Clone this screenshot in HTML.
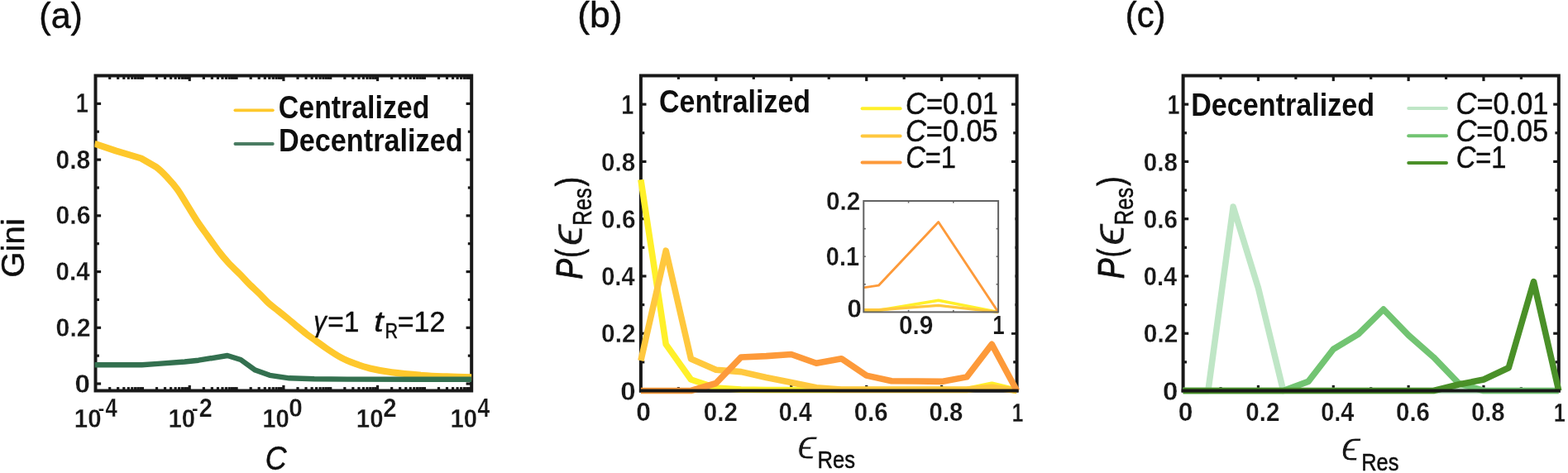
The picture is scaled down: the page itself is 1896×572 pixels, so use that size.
<!DOCTYPE html><html><head><meta charset="utf-8"><title>Figure</title><style>html,body{margin:0;padding:0;background:#fff;width:1896px;height:572px;overflow:hidden}svg{display:block}text{font-family:"Liberation Sans",Arial,sans-serif}</style></head><body>
<svg width="1896" height="572" viewBox="0 0 1896 572">
<rect width="1896" height="572" fill="#fff"/>
<clipPath id="ca"><rect x="114.4" y="91.5" width="455.8" height="381.0"/></clipPath>
<line x1="115.50" y1="464.03" x2="122.10" y2="464.03" stroke="#181818" stroke-width="3.20" />
<line x1="570.20" y1="464.03" x2="563.60" y2="464.03" stroke="#181818" stroke-width="3.20" />
<line x1="115.50" y1="396.30" x2="122.10" y2="396.30" stroke="#181818" stroke-width="3.20" />
<line x1="570.20" y1="396.30" x2="563.60" y2="396.30" stroke="#181818" stroke-width="3.20" />
<line x1="115.50" y1="328.57" x2="122.10" y2="328.57" stroke="#181818" stroke-width="3.20" />
<line x1="570.20" y1="328.57" x2="563.60" y2="328.57" stroke="#181818" stroke-width="3.20" />
<line x1="115.50" y1="260.83" x2="122.10" y2="260.83" stroke="#181818" stroke-width="3.20" />
<line x1="570.20" y1="260.83" x2="563.60" y2="260.83" stroke="#181818" stroke-width="3.20" />
<line x1="115.50" y1="193.10" x2="122.10" y2="193.10" stroke="#181818" stroke-width="3.20" />
<line x1="570.20" y1="193.10" x2="563.60" y2="193.10" stroke="#181818" stroke-width="3.20" />
<line x1="115.50" y1="125.37" x2="122.10" y2="125.37" stroke="#181818" stroke-width="3.20" />
<line x1="570.20" y1="125.37" x2="563.60" y2="125.37" stroke="#181818" stroke-width="3.20" />
<line x1="115.50" y1="430.17" x2="119.90" y2="430.17" stroke="#181818" stroke-width="3.20" />
<line x1="570.20" y1="430.17" x2="565.80" y2="430.17" stroke="#181818" stroke-width="3.20" />
<line x1="115.50" y1="362.43" x2="119.90" y2="362.43" stroke="#181818" stroke-width="3.20" />
<line x1="570.20" y1="362.43" x2="565.80" y2="362.43" stroke="#181818" stroke-width="3.20" />
<line x1="115.50" y1="294.70" x2="119.90" y2="294.70" stroke="#181818" stroke-width="3.20" />
<line x1="570.20" y1="294.70" x2="565.80" y2="294.70" stroke="#181818" stroke-width="3.20" />
<line x1="115.50" y1="226.97" x2="119.90" y2="226.97" stroke="#181818" stroke-width="3.20" />
<line x1="570.20" y1="226.97" x2="565.80" y2="226.97" stroke="#181818" stroke-width="3.20" />
<line x1="115.50" y1="159.23" x2="119.90" y2="159.23" stroke="#181818" stroke-width="3.20" />
<line x1="570.20" y1="159.23" x2="565.80" y2="159.23" stroke="#181818" stroke-width="3.20" />
<line x1="229.24" y1="472.50" x2="229.24" y2="465.90" stroke="#181818" stroke-width="3.20" />
<line x1="229.24" y1="91.50" x2="229.24" y2="98.10" stroke="#181818" stroke-width="3.20" />
<line x1="342.90" y1="472.50" x2="342.90" y2="465.90" stroke="#181818" stroke-width="3.20" />
<line x1="342.90" y1="91.50" x2="342.90" y2="98.10" stroke="#181818" stroke-width="3.20" />
<line x1="456.56" y1="472.50" x2="456.56" y2="465.90" stroke="#181818" stroke-width="3.20" />
<line x1="456.56" y1="91.50" x2="456.56" y2="98.10" stroke="#181818" stroke-width="3.20" />
<line x1="132.69" y1="472.50" x2="132.69" y2="468.10" stroke="#181818" stroke-width="3.20" />
<line x1="132.69" y1="91.50" x2="132.69" y2="95.90" stroke="#181818" stroke-width="3.20" />
<line x1="142.69" y1="472.50" x2="142.69" y2="468.10" stroke="#181818" stroke-width="3.20" />
<line x1="142.69" y1="91.50" x2="142.69" y2="95.90" stroke="#181818" stroke-width="3.20" />
<line x1="149.80" y1="472.50" x2="149.80" y2="468.10" stroke="#181818" stroke-width="3.20" />
<line x1="149.80" y1="91.50" x2="149.80" y2="95.90" stroke="#181818" stroke-width="3.20" />
<line x1="155.30" y1="472.50" x2="155.30" y2="468.10" stroke="#181818" stroke-width="3.20" />
<line x1="155.30" y1="91.50" x2="155.30" y2="95.90" stroke="#181818" stroke-width="3.20" />
<line x1="159.80" y1="472.50" x2="159.80" y2="468.10" stroke="#181818" stroke-width="3.20" />
<line x1="159.80" y1="91.50" x2="159.80" y2="95.90" stroke="#181818" stroke-width="3.20" />
<line x1="163.61" y1="472.50" x2="163.61" y2="468.10" stroke="#181818" stroke-width="3.20" />
<line x1="163.61" y1="91.50" x2="163.61" y2="95.90" stroke="#181818" stroke-width="3.20" />
<line x1="166.90" y1="472.50" x2="166.90" y2="468.10" stroke="#181818" stroke-width="3.20" />
<line x1="166.90" y1="91.50" x2="166.90" y2="95.90" stroke="#181818" stroke-width="3.20" />
<line x1="169.81" y1="472.50" x2="169.81" y2="468.10" stroke="#181818" stroke-width="3.20" />
<line x1="169.81" y1="91.50" x2="169.81" y2="95.90" stroke="#181818" stroke-width="3.20" />
<line x1="189.52" y1="472.50" x2="189.52" y2="468.10" stroke="#181818" stroke-width="3.20" />
<line x1="189.52" y1="91.50" x2="189.52" y2="95.90" stroke="#181818" stroke-width="3.20" />
<line x1="199.52" y1="472.50" x2="199.52" y2="468.10" stroke="#181818" stroke-width="3.20" />
<line x1="199.52" y1="91.50" x2="199.52" y2="95.90" stroke="#181818" stroke-width="3.20" />
<line x1="206.63" y1="472.50" x2="206.63" y2="468.10" stroke="#181818" stroke-width="3.20" />
<line x1="206.63" y1="91.50" x2="206.63" y2="95.90" stroke="#181818" stroke-width="3.20" />
<line x1="212.13" y1="472.50" x2="212.13" y2="468.10" stroke="#181818" stroke-width="3.20" />
<line x1="212.13" y1="91.50" x2="212.13" y2="95.90" stroke="#181818" stroke-width="3.20" />
<line x1="216.63" y1="472.50" x2="216.63" y2="468.10" stroke="#181818" stroke-width="3.20" />
<line x1="216.63" y1="91.50" x2="216.63" y2="95.90" stroke="#181818" stroke-width="3.20" />
<line x1="220.44" y1="472.50" x2="220.44" y2="468.10" stroke="#181818" stroke-width="3.20" />
<line x1="220.44" y1="91.50" x2="220.44" y2="95.90" stroke="#181818" stroke-width="3.20" />
<line x1="223.73" y1="472.50" x2="223.73" y2="468.10" stroke="#181818" stroke-width="3.20" />
<line x1="223.73" y1="91.50" x2="223.73" y2="95.90" stroke="#181818" stroke-width="3.20" />
<line x1="226.64" y1="472.50" x2="226.64" y2="468.10" stroke="#181818" stroke-width="3.20" />
<line x1="226.64" y1="91.50" x2="226.64" y2="95.90" stroke="#181818" stroke-width="3.20" />
<line x1="246.35" y1="472.50" x2="246.35" y2="468.10" stroke="#181818" stroke-width="3.20" />
<line x1="246.35" y1="91.50" x2="246.35" y2="95.90" stroke="#181818" stroke-width="3.20" />
<line x1="256.35" y1="472.50" x2="256.35" y2="468.10" stroke="#181818" stroke-width="3.20" />
<line x1="256.35" y1="91.50" x2="256.35" y2="95.90" stroke="#181818" stroke-width="3.20" />
<line x1="263.46" y1="472.50" x2="263.46" y2="468.10" stroke="#181818" stroke-width="3.20" />
<line x1="263.46" y1="91.50" x2="263.46" y2="95.90" stroke="#181818" stroke-width="3.20" />
<line x1="268.96" y1="472.50" x2="268.96" y2="468.10" stroke="#181818" stroke-width="3.20" />
<line x1="268.96" y1="91.50" x2="268.96" y2="95.90" stroke="#181818" stroke-width="3.20" />
<line x1="273.46" y1="472.50" x2="273.46" y2="468.10" stroke="#181818" stroke-width="3.20" />
<line x1="273.46" y1="91.50" x2="273.46" y2="95.90" stroke="#181818" stroke-width="3.20" />
<line x1="277.27" y1="472.50" x2="277.27" y2="468.10" stroke="#181818" stroke-width="3.20" />
<line x1="277.27" y1="91.50" x2="277.27" y2="95.90" stroke="#181818" stroke-width="3.20" />
<line x1="280.56" y1="472.50" x2="280.56" y2="468.10" stroke="#181818" stroke-width="3.20" />
<line x1="280.56" y1="91.50" x2="280.56" y2="95.90" stroke="#181818" stroke-width="3.20" />
<line x1="283.47" y1="472.50" x2="283.47" y2="468.10" stroke="#181818" stroke-width="3.20" />
<line x1="283.47" y1="91.50" x2="283.47" y2="95.90" stroke="#181818" stroke-width="3.20" />
<line x1="303.18" y1="472.50" x2="303.18" y2="468.10" stroke="#181818" stroke-width="3.20" />
<line x1="303.18" y1="91.50" x2="303.18" y2="95.90" stroke="#181818" stroke-width="3.20" />
<line x1="313.18" y1="472.50" x2="313.18" y2="468.10" stroke="#181818" stroke-width="3.20" />
<line x1="313.18" y1="91.50" x2="313.18" y2="95.90" stroke="#181818" stroke-width="3.20" />
<line x1="320.29" y1="472.50" x2="320.29" y2="468.10" stroke="#181818" stroke-width="3.20" />
<line x1="320.29" y1="91.50" x2="320.29" y2="95.90" stroke="#181818" stroke-width="3.20" />
<line x1="325.79" y1="472.50" x2="325.79" y2="468.10" stroke="#181818" stroke-width="3.20" />
<line x1="325.79" y1="91.50" x2="325.79" y2="95.90" stroke="#181818" stroke-width="3.20" />
<line x1="330.29" y1="472.50" x2="330.29" y2="468.10" stroke="#181818" stroke-width="3.20" />
<line x1="330.29" y1="91.50" x2="330.29" y2="95.90" stroke="#181818" stroke-width="3.20" />
<line x1="334.10" y1="472.50" x2="334.10" y2="468.10" stroke="#181818" stroke-width="3.20" />
<line x1="334.10" y1="91.50" x2="334.10" y2="95.90" stroke="#181818" stroke-width="3.20" />
<line x1="337.39" y1="472.50" x2="337.39" y2="468.10" stroke="#181818" stroke-width="3.20" />
<line x1="337.39" y1="91.50" x2="337.39" y2="95.90" stroke="#181818" stroke-width="3.20" />
<line x1="340.30" y1="472.50" x2="340.30" y2="468.10" stroke="#181818" stroke-width="3.20" />
<line x1="340.30" y1="91.50" x2="340.30" y2="95.90" stroke="#181818" stroke-width="3.20" />
<line x1="360.01" y1="472.50" x2="360.01" y2="468.10" stroke="#181818" stroke-width="3.20" />
<line x1="360.01" y1="91.50" x2="360.01" y2="95.90" stroke="#181818" stroke-width="3.20" />
<line x1="370.01" y1="472.50" x2="370.01" y2="468.10" stroke="#181818" stroke-width="3.20" />
<line x1="370.01" y1="91.50" x2="370.01" y2="95.90" stroke="#181818" stroke-width="3.20" />
<line x1="377.12" y1="472.50" x2="377.12" y2="468.10" stroke="#181818" stroke-width="3.20" />
<line x1="377.12" y1="91.50" x2="377.12" y2="95.90" stroke="#181818" stroke-width="3.20" />
<line x1="382.62" y1="472.50" x2="382.62" y2="468.10" stroke="#181818" stroke-width="3.20" />
<line x1="382.62" y1="91.50" x2="382.62" y2="95.90" stroke="#181818" stroke-width="3.20" />
<line x1="387.12" y1="472.50" x2="387.12" y2="468.10" stroke="#181818" stroke-width="3.20" />
<line x1="387.12" y1="91.50" x2="387.12" y2="95.90" stroke="#181818" stroke-width="3.20" />
<line x1="390.93" y1="472.50" x2="390.93" y2="468.10" stroke="#181818" stroke-width="3.20" />
<line x1="390.93" y1="91.50" x2="390.93" y2="95.90" stroke="#181818" stroke-width="3.20" />
<line x1="394.22" y1="472.50" x2="394.22" y2="468.10" stroke="#181818" stroke-width="3.20" />
<line x1="394.22" y1="91.50" x2="394.22" y2="95.90" stroke="#181818" stroke-width="3.20" />
<line x1="397.13" y1="472.50" x2="397.13" y2="468.10" stroke="#181818" stroke-width="3.20" />
<line x1="397.13" y1="91.50" x2="397.13" y2="95.90" stroke="#181818" stroke-width="3.20" />
<line x1="416.84" y1="472.50" x2="416.84" y2="468.10" stroke="#181818" stroke-width="3.20" />
<line x1="416.84" y1="91.50" x2="416.84" y2="95.90" stroke="#181818" stroke-width="3.20" />
<line x1="426.84" y1="472.50" x2="426.84" y2="468.10" stroke="#181818" stroke-width="3.20" />
<line x1="426.84" y1="91.50" x2="426.84" y2="95.90" stroke="#181818" stroke-width="3.20" />
<line x1="433.95" y1="472.50" x2="433.95" y2="468.10" stroke="#181818" stroke-width="3.20" />
<line x1="433.95" y1="91.50" x2="433.95" y2="95.90" stroke="#181818" stroke-width="3.20" />
<line x1="439.45" y1="472.50" x2="439.45" y2="468.10" stroke="#181818" stroke-width="3.20" />
<line x1="439.45" y1="91.50" x2="439.45" y2="95.90" stroke="#181818" stroke-width="3.20" />
<line x1="443.95" y1="472.50" x2="443.95" y2="468.10" stroke="#181818" stroke-width="3.20" />
<line x1="443.95" y1="91.50" x2="443.95" y2="95.90" stroke="#181818" stroke-width="3.20" />
<line x1="447.76" y1="472.50" x2="447.76" y2="468.10" stroke="#181818" stroke-width="3.20" />
<line x1="447.76" y1="91.50" x2="447.76" y2="95.90" stroke="#181818" stroke-width="3.20" />
<line x1="451.05" y1="472.50" x2="451.05" y2="468.10" stroke="#181818" stroke-width="3.20" />
<line x1="451.05" y1="91.50" x2="451.05" y2="95.90" stroke="#181818" stroke-width="3.20" />
<line x1="453.96" y1="472.50" x2="453.96" y2="468.10" stroke="#181818" stroke-width="3.20" />
<line x1="453.96" y1="91.50" x2="453.96" y2="95.90" stroke="#181818" stroke-width="3.20" />
<line x1="473.67" y1="472.50" x2="473.67" y2="468.10" stroke="#181818" stroke-width="3.20" />
<line x1="473.67" y1="91.50" x2="473.67" y2="95.90" stroke="#181818" stroke-width="3.20" />
<line x1="483.67" y1="472.50" x2="483.67" y2="468.10" stroke="#181818" stroke-width="3.20" />
<line x1="483.67" y1="91.50" x2="483.67" y2="95.90" stroke="#181818" stroke-width="3.20" />
<line x1="490.78" y1="472.50" x2="490.78" y2="468.10" stroke="#181818" stroke-width="3.20" />
<line x1="490.78" y1="91.50" x2="490.78" y2="95.90" stroke="#181818" stroke-width="3.20" />
<line x1="496.28" y1="472.50" x2="496.28" y2="468.10" stroke="#181818" stroke-width="3.20" />
<line x1="496.28" y1="91.50" x2="496.28" y2="95.90" stroke="#181818" stroke-width="3.20" />
<line x1="500.78" y1="472.50" x2="500.78" y2="468.10" stroke="#181818" stroke-width="3.20" />
<line x1="500.78" y1="91.50" x2="500.78" y2="95.90" stroke="#181818" stroke-width="3.20" />
<line x1="504.59" y1="472.50" x2="504.59" y2="468.10" stroke="#181818" stroke-width="3.20" />
<line x1="504.59" y1="91.50" x2="504.59" y2="95.90" stroke="#181818" stroke-width="3.20" />
<line x1="507.88" y1="472.50" x2="507.88" y2="468.10" stroke="#181818" stroke-width="3.20" />
<line x1="507.88" y1="91.50" x2="507.88" y2="95.90" stroke="#181818" stroke-width="3.20" />
<line x1="510.79" y1="472.50" x2="510.79" y2="468.10" stroke="#181818" stroke-width="3.20" />
<line x1="510.79" y1="91.50" x2="510.79" y2="95.90" stroke="#181818" stroke-width="3.20" />
<line x1="530.50" y1="472.50" x2="530.50" y2="468.10" stroke="#181818" stroke-width="3.20" />
<line x1="530.50" y1="91.50" x2="530.50" y2="95.90" stroke="#181818" stroke-width="3.20" />
<line x1="540.50" y1="472.50" x2="540.50" y2="468.10" stroke="#181818" stroke-width="3.20" />
<line x1="540.50" y1="91.50" x2="540.50" y2="95.90" stroke="#181818" stroke-width="3.20" />
<line x1="547.61" y1="472.50" x2="547.61" y2="468.10" stroke="#181818" stroke-width="3.20" />
<line x1="547.61" y1="91.50" x2="547.61" y2="95.90" stroke="#181818" stroke-width="3.20" />
<line x1="553.11" y1="472.50" x2="553.11" y2="468.10" stroke="#181818" stroke-width="3.20" />
<line x1="553.11" y1="91.50" x2="553.11" y2="95.90" stroke="#181818" stroke-width="3.20" />
<line x1="557.61" y1="472.50" x2="557.61" y2="468.10" stroke="#181818" stroke-width="3.20" />
<line x1="557.61" y1="91.50" x2="557.61" y2="95.90" stroke="#181818" stroke-width="3.20" />
<line x1="561.42" y1="472.50" x2="561.42" y2="468.10" stroke="#181818" stroke-width="3.20" />
<line x1="561.42" y1="91.50" x2="561.42" y2="95.90" stroke="#181818" stroke-width="3.20" />
<line x1="564.71" y1="472.50" x2="564.71" y2="468.10" stroke="#181818" stroke-width="3.20" />
<line x1="564.71" y1="91.50" x2="564.71" y2="95.90" stroke="#181818" stroke-width="3.20" />
<line x1="567.62" y1="472.50" x2="567.62" y2="468.10" stroke="#181818" stroke-width="3.20" />
<line x1="567.62" y1="91.50" x2="567.62" y2="95.90" stroke="#181818" stroke-width="3.20" />
<line x1="172.41" y1="472.50" x2="172.41" y2="468.10" stroke="#181818" stroke-width="3.20" />
<line x1="172.41" y1="91.50" x2="172.41" y2="95.90" stroke="#181818" stroke-width="3.20" />
<line x1="286.07" y1="472.50" x2="286.07" y2="468.10" stroke="#181818" stroke-width="3.20" />
<line x1="286.07" y1="91.50" x2="286.07" y2="95.90" stroke="#181818" stroke-width="3.20" />
<line x1="399.73" y1="472.50" x2="399.73" y2="468.10" stroke="#181818" stroke-width="3.20" />
<line x1="399.73" y1="91.50" x2="399.73" y2="95.90" stroke="#181818" stroke-width="3.20" />
<line x1="513.39" y1="472.50" x2="513.39" y2="468.10" stroke="#181818" stroke-width="3.20" />
<line x1="513.39" y1="91.50" x2="513.39" y2="95.90" stroke="#181818" stroke-width="3.20" />
<rect x="115.50" y="91.50" width="454.70" height="381.00" fill="none" stroke="#181818" stroke-width="4.00"/>
<g clip-path="url(#ca)">
<path d="M114.40,173.90 L115.90,174.30 L140.00,182.40 L170.70,191.50 L188.90,202.00 C194.18,205.87 198.10,210.15 202.40,214.70 C206.70,219.25 210.62,223.60 214.70,229.30 C218.78,235.00 222.83,242.37 226.90,248.90 C230.97,255.43 235.03,262.38 239.10,268.50 C243.17,274.62 247.22,279.90 251.30,285.60 C255.38,291.30 259.52,297.40 263.60,302.70 C267.68,308.00 271.32,312.52 275.80,317.40 C280.28,322.28 286.30,327.72 290.50,332.00 C294.70,336.28 297.08,339.18 301.00,343.10 C304.92,347.02 310.00,351.55 314.00,355.50 C318.00,359.45 321.27,363.42 325.00,366.80 C328.73,370.18 332.62,372.77 336.40,375.80 C340.18,378.83 343.92,381.87 347.70,385.00 C351.48,388.13 355.30,391.47 359.10,394.60 C362.90,397.73 366.72,400.90 370.50,403.80 C374.28,406.70 377.72,409.05 381.80,412.00 C385.88,414.95 389.88,418.08 395.00,421.50 C400.12,424.92 406.67,429.42 412.50,432.50 C418.33,435.58 424.18,437.83 430.00,440.00 C435.82,442.17 440.12,443.78 447.40,445.50 C454.68,447.22 463.07,448.90 473.70,450.30 C484.33,451.70 500.15,453.07 511.20,453.90 C522.25,454.73 529.87,454.92 540.00,455.30 C550.13,455.68 566.67,456.05 572.00,456.20" fill="none" stroke="#fec82c" stroke-width="8.00" stroke-linejoin="round" />
<polyline points="114.40,441.30 171.50,441.30 191.10,439.90 223.30,437.50 240.00,435.70 275.00,430.00 291.10,435.00 308.60,447.60 326.10,453.80 349.90,457.30 380.00,458.30 420.00,458.60 570.00,458.80" fill="none" stroke="#33704f" stroke-width="6.40" stroke-linejoin="round" stroke-linecap="butt" />
</g>
<line x1="284.40" y1="133.30" x2="329.80" y2="133.30" stroke="#fec82c" stroke-width="3.80" stroke-linecap="round"/>
<line x1="284.40" y1="174.00" x2="329.80" y2="174.00" stroke="#4a7c62" stroke-width="3.80" stroke-linecap="round"/>
<text transform="translate(336.85 142.60) scale(0.8555 1)" fill="#0e0e0e"><tspan x="0.00" y="0.00" font-size="39.59" font-weight="bold">Centralized</tspan></text>
<text transform="translate(336.97 183.41) scale(0.8678 1)" fill="#0e0e0e"><tspan x="0.00" y="0.00" font-size="39.46" font-weight="bold">Decentralized</tspan></text>
<text transform="translate(379.19 401.30) scale(0.8914 1)" fill="#0e0e0e" stroke="#0e0e0e" stroke-width="0.50" stroke-linejoin="round"><tspan x="0.00" y="0.00" font-size="34.80" font-style="italic">γ</tspan></text>
<text transform="translate(396.33 401.30) scale(0.9588 1)" fill="#0e0e0e" stroke="#0e0e0e" stroke-width="0.50" stroke-linejoin="round"><tspan x="0.00" y="0.00" font-size="34.80" >=1</tspan></text>
<text transform="translate(452.15 401.30) scale(1.1820 1)" fill="#0e0e0e" stroke="#0e0e0e" stroke-width="0.50" stroke-linejoin="round"><tspan x="0.00" y="0.00" font-size="34.80" font-style="italic">t</tspan></text>
<text transform="translate(465.58 408.90) scale(0.8242 1)" fill="#0e0e0e" stroke="#0e0e0e" stroke-width="0.50" stroke-linejoin="round"><tspan x="0.00" y="0.00" font-size="26.10" >R</tspan></text>
<text transform="translate(480.80 401.30) scale(0.9747 1)" fill="#0e0e0e" stroke="#0e0e0e" stroke-width="0.50" stroke-linejoin="round"><tspan x="0.00" y="0.00" font-size="34.80" >=12</tspan></text>
<text transform="translate(90.58 474.52) scale(1.0477 1)" fill="#181818" stroke="#fff" stroke-width="0.25" stroke-linejoin="round"><tspan x="0.00" y="0.00" font-size="31.55" font-weight="bold">0</tspan></text>
<text transform="translate(67.59 406.78) scale(0.9582 1)" fill="#181818" stroke="#fff" stroke-width="0.25" stroke-linejoin="round"><tspan x="0.00" y="0.00" font-size="31.55" font-weight="bold">0.2</tspan></text>
<text transform="translate(67.62 339.05) scale(0.9332 1)" fill="#181818" stroke="#fff" stroke-width="0.25" stroke-linejoin="round"><tspan x="0.00" y="0.00" font-size="31.55" font-weight="bold">0.4</tspan></text>
<text transform="translate(67.60 271.32) scale(0.9545 1)" fill="#181818" stroke="#fff" stroke-width="0.25" stroke-linejoin="round"><tspan x="0.00" y="0.00" font-size="31.55" font-weight="bold">0.6</tspan></text>
<text transform="translate(67.60 203.58) scale(0.9509 1)" fill="#181818" stroke="#fff" stroke-width="0.25" stroke-linejoin="round"><tspan x="0.00" y="0.00" font-size="31.55" font-weight="bold">0.8</tspan></text>
<text transform="translate(91.74 136.17) scale(0.8347 1)" fill="#181818" stroke="#fff" stroke-width="0.25" stroke-linejoin="round"><tspan x="0.00" y="0.00" font-size="32.46" font-weight="bold">1</tspan></text>
<text transform="translate(89.87 516.99) scale(0.9560 1)" fill="#181818" stroke="#fff" stroke-width="0.25" stroke-linejoin="round"><tspan x="0.00" y="0.00" font-size="30.70" font-weight="bold">10</tspan></text>
<text transform="translate(118.45 501.73) scale(0.9574 1)" fill="#181818" stroke="#fff" stroke-width="0.25" stroke-linejoin="round"><tspan x="0.00" y="0.00" font-size="24.17" font-weight="bold">-</tspan></text>
<text transform="translate(127.59 504.00) scale(0.8164 1)" fill="#181818" stroke="#fff" stroke-width="0.25" stroke-linejoin="round"><tspan x="0.00" y="0.00" font-size="31.59" font-weight="bold">4</tspan></text>
<text transform="translate(203.53 516.99) scale(0.9560 1)" fill="#181818" stroke="#fff" stroke-width="0.25" stroke-linejoin="round"><tspan x="0.00" y="0.00" font-size="30.70" font-weight="bold">10</tspan></text>
<text transform="translate(232.11 501.73) scale(0.9574 1)" fill="#181818" stroke="#fff" stroke-width="0.25" stroke-linejoin="round"><tspan x="0.00" y="0.00" font-size="24.17" font-weight="bold">-</tspan></text>
<text transform="translate(240.63 504.00) scale(0.9232 1)" fill="#181818" stroke="#fff" stroke-width="0.25" stroke-linejoin="round"><tspan x="0.00" y="0.00" font-size="31.14" font-weight="bold">2</tspan></text>
<text transform="translate(317.19 516.99) scale(0.9560 1)" fill="#181818" stroke="#fff" stroke-width="0.25" stroke-linejoin="round"><tspan x="0.00" y="0.00" font-size="30.70" font-weight="bold">10</tspan></text>
<text transform="translate(349.31 503.99) scale(0.9537 1)" fill="#181818" stroke="#fff" stroke-width="0.25" stroke-linejoin="round"><tspan x="0.00" y="0.00" font-size="31.13" font-weight="bold">0</tspan></text>
<text transform="translate(430.85 516.99) scale(0.9560 1)" fill="#181818" stroke="#fff" stroke-width="0.25" stroke-linejoin="round"><tspan x="0.00" y="0.00" font-size="30.70" font-weight="bold">10</tspan></text>
<text transform="translate(463.13 504.30) scale(0.9304 1)" fill="#181818" stroke="#fff" stroke-width="0.25" stroke-linejoin="round"><tspan x="0.00" y="0.00" font-size="31.57" font-weight="bold">2</tspan></text>
<text transform="translate(544.51 516.99) scale(0.9560 1)" fill="#181818" stroke="#fff" stroke-width="0.25" stroke-linejoin="round"><tspan x="0.00" y="0.00" font-size="30.70" font-weight="bold">10</tspan></text>
<text transform="translate(577.42 504.30) scale(0.8229 1)" fill="#181818" stroke="#fff" stroke-width="0.25" stroke-linejoin="round"><tspan x="0.00" y="0.00" font-size="32.03" font-weight="bold">4</tspan></text>
<text transform="translate(320.84 567.69) scale(0.8615 1)" fill="#0e0e0e" stroke="#0e0e0e" stroke-width="0.50" stroke-linejoin="round"><tspan x="0.00" y="0.00" font-size="41.41" font-style="italic">C</tspan></text>
<text transform="translate(28.71 335.72) rotate(-90) scale(1.0467 1)" fill="#0e0e0e" stroke="#0e0e0e" stroke-width="0.50" stroke-linejoin="round"><tspan x="0.00" y="0.00" font-size="38.50" >Gini</tspan></text>
<text transform="translate(47.32 33.57) scale(0.9573 1)" fill="#0e0e0e" stroke="#0e0e0e" stroke-width="0.50" stroke-linejoin="round"><tspan x="0.00" y="0.00" font-size="44.92" >(a)</tspan></text>
<line x1="774.90" y1="472.50" x2="781.50" y2="472.50" stroke="#181818" stroke-width="3.20" />
<line x1="1229.60" y1="472.50" x2="1223.00" y2="472.50" stroke="#181818" stroke-width="3.20" />
<line x1="774.90" y1="403.23" x2="781.50" y2="403.23" stroke="#181818" stroke-width="3.20" />
<line x1="1229.60" y1="403.23" x2="1223.00" y2="403.23" stroke="#181818" stroke-width="3.20" />
<line x1="774.90" y1="333.95" x2="781.50" y2="333.95" stroke="#181818" stroke-width="3.20" />
<line x1="1229.60" y1="333.95" x2="1223.00" y2="333.95" stroke="#181818" stroke-width="3.20" />
<line x1="774.90" y1="264.68" x2="781.50" y2="264.68" stroke="#181818" stroke-width="3.20" />
<line x1="1229.60" y1="264.68" x2="1223.00" y2="264.68" stroke="#181818" stroke-width="3.20" />
<line x1="774.90" y1="195.41" x2="781.50" y2="195.41" stroke="#181818" stroke-width="3.20" />
<line x1="1229.60" y1="195.41" x2="1223.00" y2="195.41" stroke="#181818" stroke-width="3.20" />
<line x1="774.90" y1="126.14" x2="781.50" y2="126.14" stroke="#181818" stroke-width="3.20" />
<line x1="1229.60" y1="126.14" x2="1223.00" y2="126.14" stroke="#181818" stroke-width="3.20" />
<line x1="774.90" y1="437.86" x2="779.30" y2="437.86" stroke="#181818" stroke-width="3.20" />
<line x1="1229.60" y1="437.86" x2="1225.20" y2="437.86" stroke="#181818" stroke-width="3.20" />
<line x1="774.90" y1="368.59" x2="779.30" y2="368.59" stroke="#181818" stroke-width="3.20" />
<line x1="1229.60" y1="368.59" x2="1225.20" y2="368.59" stroke="#181818" stroke-width="3.20" />
<line x1="774.90" y1="299.32" x2="779.30" y2="299.32" stroke="#181818" stroke-width="3.20" />
<line x1="1229.60" y1="299.32" x2="1225.20" y2="299.32" stroke="#181818" stroke-width="3.20" />
<line x1="774.90" y1="230.05" x2="779.30" y2="230.05" stroke="#181818" stroke-width="3.20" />
<line x1="1229.60" y1="230.05" x2="1225.20" y2="230.05" stroke="#181818" stroke-width="3.20" />
<line x1="774.90" y1="160.77" x2="779.30" y2="160.77" stroke="#181818" stroke-width="3.20" />
<line x1="1229.60" y1="160.77" x2="1225.20" y2="160.77" stroke="#181818" stroke-width="3.20" />
<line x1="865.84" y1="472.50" x2="865.84" y2="465.90" stroke="#181818" stroke-width="3.20" />
<line x1="865.84" y1="91.50" x2="865.84" y2="98.10" stroke="#181818" stroke-width="3.20" />
<line x1="956.78" y1="472.50" x2="956.78" y2="465.90" stroke="#181818" stroke-width="3.20" />
<line x1="956.78" y1="91.50" x2="956.78" y2="98.10" stroke="#181818" stroke-width="3.20" />
<line x1="1047.72" y1="472.50" x2="1047.72" y2="465.90" stroke="#181818" stroke-width="3.20" />
<line x1="1047.72" y1="91.50" x2="1047.72" y2="98.10" stroke="#181818" stroke-width="3.20" />
<line x1="1138.66" y1="472.50" x2="1138.66" y2="465.90" stroke="#181818" stroke-width="3.20" />
<line x1="1138.66" y1="91.50" x2="1138.66" y2="98.10" stroke="#181818" stroke-width="3.20" />
<line x1="820.37" y1="472.50" x2="820.37" y2="468.10" stroke="#181818" stroke-width="3.20" />
<line x1="820.37" y1="91.50" x2="820.37" y2="95.90" stroke="#181818" stroke-width="3.20" />
<line x1="911.31" y1="472.50" x2="911.31" y2="468.10" stroke="#181818" stroke-width="3.20" />
<line x1="911.31" y1="91.50" x2="911.31" y2="95.90" stroke="#181818" stroke-width="3.20" />
<line x1="1002.25" y1="472.50" x2="1002.25" y2="468.10" stroke="#181818" stroke-width="3.20" />
<line x1="1002.25" y1="91.50" x2="1002.25" y2="95.90" stroke="#181818" stroke-width="3.20" />
<line x1="1093.19" y1="472.50" x2="1093.19" y2="468.10" stroke="#181818" stroke-width="3.20" />
<line x1="1093.19" y1="91.50" x2="1093.19" y2="95.90" stroke="#181818" stroke-width="3.20" />
<line x1="1184.13" y1="472.50" x2="1184.13" y2="468.10" stroke="#181818" stroke-width="3.20" />
<line x1="1184.13" y1="91.50" x2="1184.13" y2="95.90" stroke="#181818" stroke-width="3.20" />
<rect x="995" y="233" width="232.5" height="169" fill="#fff"/>
<rect x="774.90" y="91.50" width="454.70" height="381.00" fill="none" stroke="#181818" stroke-width="4.00"/>
<clipPath id="c774"><rect x="768.9" y="91.5" width="466.7" height="389.0"/></clipPath>
<g clip-path="url(#c774)">
<polyline points="774.90,217.23 805.21,416.39 835.53,458.99 865.84,469.04 896.15,471.11 926.47,471.46 956.78,471.46 987.09,471.46 1017.41,471.46 1047.72,471.46 1078.03,471.46 1108.35,471.46 1138.66,471.46 1168.97,471.46 1199.29,465.23 1229.60,472.50" fill="none" stroke="#fff02a" stroke-width="7.60" stroke-linejoin="round" stroke-linecap="butt" />
<polyline points="774.90,436.13 805.21,303.13 835.53,434.05 865.84,447.22 896.15,449.64 926.47,456.57 956.78,462.46 987.09,468.69 1017.41,471.11 1047.72,471.11 1078.03,471.11 1108.35,471.11 1138.66,471.11 1168.97,471.11 1199.29,468.34 1229.60,472.50" fill="none" stroke="#ffc83e" stroke-width="7.60" stroke-linejoin="round" stroke-linecap="butt" />
<polyline points="774.90,472.50 805.21,472.50 835.53,472.50 865.84,463.49 896.15,431.98 926.47,430.59 956.78,428.51 987.09,439.25 1017.41,433.71 1047.72,454.14 1078.03,460.72 1108.35,461.07 1138.66,461.42 1168.97,455.87 1199.29,416.39 1229.60,472.50" fill="none" stroke="#fd9a3a" stroke-width="7.60" stroke-linejoin="round" stroke-linecap="butt" />
</g>
<line x1="772.90" y1="472.50" x2="1231.60" y2="472.50" stroke="#181818" stroke-width="4.00" />
<text transform="translate(750.18 483.68) scale(1.0477 1)" fill="#181818" stroke="#fff" stroke-width="0.25" stroke-linejoin="round"><tspan x="0.00" y="0.00" font-size="31.55" font-weight="bold">0</tspan></text>
<text transform="translate(727.11 414.41) scale(0.9461 1)" fill="#181818" stroke="#fff" stroke-width="0.25" stroke-linejoin="round"><tspan x="0.00" y="0.00" font-size="31.55" font-weight="bold">0.2</tspan></text>
<text transform="translate(727.14 345.14) scale(0.9214 1)" fill="#181818" stroke="#fff" stroke-width="0.25" stroke-linejoin="round"><tspan x="0.00" y="0.00" font-size="31.55" font-weight="bold">0.4</tspan></text>
<text transform="translate(727.11 275.87) scale(0.9425 1)" fill="#181818" stroke="#fff" stroke-width="0.25" stroke-linejoin="round"><tspan x="0.00" y="0.00" font-size="31.55" font-weight="bold">0.6</tspan></text>
<text transform="translate(727.12 206.59) scale(0.9389 1)" fill="#181818" stroke="#fff" stroke-width="0.25" stroke-linejoin="round"><tspan x="0.00" y="0.00" font-size="31.55" font-weight="bold">0.8</tspan></text>
<text transform="translate(751.14 137.64) scale(0.8347 1)" fill="#181818" stroke="#fff" stroke-width="0.25" stroke-linejoin="round"><tspan x="0.00" y="0.00" font-size="32.46" font-weight="bold">1</tspan></text>
<text transform="translate(769.13 509.39) scale(1.0213 1)" fill="#181818" stroke="#fff" stroke-width="0.25" stroke-linejoin="round"><tspan x="0.00" y="0.00" font-size="31.13" font-weight="bold">0</tspan></text>
<text transform="translate(850.76 509.39) scale(0.9491 1)" fill="#181818" stroke="#fff" stroke-width="0.25" stroke-linejoin="round"><tspan x="0.00" y="0.00" font-size="31.13" font-weight="bold">0.2</tspan></text>
<text transform="translate(941.73 509.39) scale(0.9244 1)" fill="#181818" stroke="#fff" stroke-width="0.25" stroke-linejoin="round"><tspan x="0.00" y="0.00" font-size="31.13" font-weight="bold">0.4</tspan></text>
<text transform="translate(1032.64 509.39) scale(0.9455 1)" fill="#181818" stroke="#fff" stroke-width="0.25" stroke-linejoin="round"><tspan x="0.00" y="0.00" font-size="31.13" font-weight="bold">0.6</tspan></text>
<text transform="translate(1123.59 509.39) scale(0.9419 1)" fill="#181818" stroke="#fff" stroke-width="0.25" stroke-linejoin="round"><tspan x="0.00" y="0.00" font-size="31.13" font-weight="bold">0.8</tspan></text>
<text transform="translate(1223.56 509.70) scale(0.7856 1)" fill="#181818" stroke="#fff" stroke-width="0.25" stroke-linejoin="round"><tspan x="0.00" y="0.00" font-size="32.03" font-weight="bold">1</tspan></text>
<text transform="translate(797.04 136.01) scale(0.8754 1)" fill="#0e0e0e"><tspan x="0.00" y="0.00" font-size="38.78" font-weight="bold">Centralized</tspan></text>
<line x1="1042.60" y1="131.20" x2="1088.60" y2="131.20" stroke="#fff02a" stroke-width="4.00" stroke-linecap="round"/>
<text transform="translate(1095.11 138.00) scale(0.9506 1)" fill="#0e0e0e" stroke="#0e0e0e" stroke-width="0.50" stroke-linejoin="round"><tspan x="0.00" y="0.00" font-size="36.20" font-style="italic">C</tspan><tspan x="26.14" y="0.00" font-size="36.20" >=0.01</tspan></text>
<line x1="1042.60" y1="164.60" x2="1088.60" y2="164.60" stroke="#ffc83e" stroke-width="4.00" stroke-linecap="round"/>
<text transform="translate(1095.11 170.70) scale(0.9476 1)" fill="#0e0e0e" stroke="#0e0e0e" stroke-width="0.50" stroke-linejoin="round"><tspan x="0.00" y="0.00" font-size="36.20" font-style="italic">C</tspan><tspan x="26.14" y="0.00" font-size="36.20" >=0.05</tspan></text>
<line x1="1042.60" y1="196.60" x2="1088.60" y2="196.60" stroke="#fd9a3a" stroke-width="4.00" stroke-linecap="round"/>
<text transform="translate(1095.21 203.20) scale(0.8992 1)" fill="#0e0e0e" stroke="#0e0e0e" stroke-width="0.50" stroke-linejoin="round"><tspan x="0.00" y="0.00" font-size="36.20" font-style="italic">C</tspan><tspan x="26.14" y="0.00" font-size="36.20" >=1</tspan></text>
<text transform="translate(702.83 225.33) rotate(-90) scale(0.7503 1)" fill="#0e0e0e" stroke="#0e0e0e" stroke-width="0.90" stroke-linejoin="round"><tspan x="0.00" y="0.00" font-size="44.60" >)</tspan></text>
<text transform="translate(715.08 272.64) rotate(-90) scale(0.8085 1)" fill="#0e0e0e" stroke="#0e0e0e" stroke-width="0.50" stroke-linejoin="round"><tspan x="0.00" y="0.00" font-size="31.57" >Res</tspan></text>
<text transform="translate(704.40 297.58) rotate(-90) scale(1.0762 1)" fill="#181818" stroke="#fff" stroke-width="0.30" stroke-linejoin="round"><tspan x="0.00" y="0.00" font-size="55.09" font-style="italic">ϵ</tspan></text>
<text transform="translate(702.82 311.56) rotate(-90) scale(0.7005 1)" fill="#0e0e0e" stroke="#0e0e0e" stroke-width="0.90" stroke-linejoin="round"><tspan x="0.00" y="0.00" font-size="44.17" >(</tspan></text>
<text transform="translate(704.40 337.72) rotate(-90) scale(0.8384 1)" fill="#0e0e0e" stroke="#0e0e0e" stroke-width="0.90" stroke-linejoin="round"><tspan x="0.00" y="0.00" font-size="44.49" font-style="italic">P</tspan></text>
<text transform="translate(963.90 554.50) scale(1.0563 1)" fill="#181818" stroke="#fff" stroke-width="0.80" stroke-linejoin="round"><tspan x="0.00" y="0.00" font-size="50.57" font-style="italic">ϵ</tspan></text>
<text transform="translate(988.45 566.40) scale(0.8693 1)" fill="#0e0e0e" stroke="#0e0e0e" stroke-width="0.50" stroke-linejoin="round"><tspan x="0.00" y="0.00" font-size="29.50" >Res</tspan></text>
<text transform="translate(698.23 33.17) scale(1.0134 1)" fill="#0e0e0e" stroke="#0e0e0e" stroke-width="0.50" stroke-linejoin="round"><tspan x="0.00" y="0.00" font-size="43.96" >(b)</tspan></text>
<rect x="1044.3" y="243.0" width="162.8" height="134.4" fill="#fff"/>
<clipPath id="ci"><rect x="1044.3" y="243.0" width="162.8" height="137.4"/></clipPath>
<g clip-path="url(#ci)">
<polyline points="990.03,375.38 1062.39,375.38 1134.74,363.29 1207.10,377.40" fill="none" stroke="#fff02a" stroke-width="3.60" stroke-linejoin="round" stroke-linecap="butt" />
<polyline points="990.03,374.71 1062.39,374.71 1134.74,369.34 1207.10,377.40" fill="none" stroke="#ffc83e" stroke-width="3.40" stroke-linejoin="round" stroke-linecap="butt" />
<polyline points="990.03,355.90 1062.39,345.14 1134.74,268.54 1207.10,377.40" fill="none" stroke="#fd9a3a" stroke-width="2.90" stroke-linejoin="round" stroke-linecap="butt" />
</g>
<line x1="1044.30" y1="343.80" x2="1046.80" y2="343.80" stroke="#626262" stroke-width="1.60" />
<line x1="1207.10" y1="343.80" x2="1204.60" y2="343.80" stroke="#626262" stroke-width="1.60" />
<line x1="1044.30" y1="310.20" x2="1046.80" y2="310.20" stroke="#626262" stroke-width="1.60" />
<line x1="1207.10" y1="310.20" x2="1204.60" y2="310.20" stroke="#626262" stroke-width="1.60" />
<line x1="1044.30" y1="276.60" x2="1046.80" y2="276.60" stroke="#626262" stroke-width="1.60" />
<line x1="1207.10" y1="276.60" x2="1204.60" y2="276.60" stroke="#626262" stroke-width="1.60" />
<line x1="1098.57" y1="377.40" x2="1098.57" y2="374.90" stroke="#626262" stroke-width="1.60" />
<line x1="1098.57" y1="243.00" x2="1098.57" y2="245.50" stroke="#626262" stroke-width="1.60" />
<line x1="1152.83" y1="377.40" x2="1152.83" y2="374.90" stroke="#626262" stroke-width="1.60" />
<line x1="1152.83" y1="243.00" x2="1152.83" y2="245.50" stroke="#626262" stroke-width="1.60" />
<rect x="1044.3" y="243.0" width="162.8" height="134.4" fill="none" stroke="#626262" stroke-width="2.0"/>
<text transform="translate(998.91 253.59) scale(0.9583 1)" fill="#181818" stroke="#fff" stroke-width="0.25" stroke-linejoin="round"><tspan x="0.00" y="0.00" font-size="30.99" font-weight="bold">0.2</tspan></text>
<text transform="translate(998.84 320.69) scale(0.9286 1)" fill="#181818" stroke="#fff" stroke-width="0.25" stroke-linejoin="round"><tspan x="0.00" y="0.00" font-size="31.13" font-weight="bold">0.1</tspan></text>
<text transform="translate(1024.55 383.79) scale(1.0263 1)" fill="#181818" stroke="#fff" stroke-width="0.25" stroke-linejoin="round"><tspan x="0.00" y="0.00" font-size="30.56" font-weight="bold">0</tspan></text>
<text transform="translate(1086.91 403.69) scale(0.9534 1)" fill="#181818" stroke="#fff" stroke-width="0.25" stroke-linejoin="round"><tspan x="0.00" y="0.00" font-size="31.27" font-weight="bold">0.9</tspan></text>
<text transform="translate(1200.21 403.60) scale(0.8390 1)" fill="#181818" stroke="#fff" stroke-width="0.25" stroke-linejoin="round"><tspan x="0.00" y="0.00" font-size="31.01" font-weight="bold">1</tspan></text>
<line x1="1430.60" y1="472.50" x2="1437.20" y2="472.50" stroke="#181818" stroke-width="3.20" />
<line x1="1884.80" y1="472.50" x2="1878.20" y2="472.50" stroke="#181818" stroke-width="3.20" />
<line x1="1430.60" y1="403.23" x2="1437.20" y2="403.23" stroke="#181818" stroke-width="3.20" />
<line x1="1884.80" y1="403.23" x2="1878.20" y2="403.23" stroke="#181818" stroke-width="3.20" />
<line x1="1430.60" y1="333.95" x2="1437.20" y2="333.95" stroke="#181818" stroke-width="3.20" />
<line x1="1884.80" y1="333.95" x2="1878.20" y2="333.95" stroke="#181818" stroke-width="3.20" />
<line x1="1430.60" y1="264.68" x2="1437.20" y2="264.68" stroke="#181818" stroke-width="3.20" />
<line x1="1884.80" y1="264.68" x2="1878.20" y2="264.68" stroke="#181818" stroke-width="3.20" />
<line x1="1430.60" y1="195.41" x2="1437.20" y2="195.41" stroke="#181818" stroke-width="3.20" />
<line x1="1884.80" y1="195.41" x2="1878.20" y2="195.41" stroke="#181818" stroke-width="3.20" />
<line x1="1430.60" y1="126.14" x2="1437.20" y2="126.14" stroke="#181818" stroke-width="3.20" />
<line x1="1884.80" y1="126.14" x2="1878.20" y2="126.14" stroke="#181818" stroke-width="3.20" />
<line x1="1430.60" y1="437.86" x2="1435.00" y2="437.86" stroke="#181818" stroke-width="3.20" />
<line x1="1884.80" y1="437.86" x2="1880.40" y2="437.86" stroke="#181818" stroke-width="3.20" />
<line x1="1430.60" y1="368.59" x2="1435.00" y2="368.59" stroke="#181818" stroke-width="3.20" />
<line x1="1884.80" y1="368.59" x2="1880.40" y2="368.59" stroke="#181818" stroke-width="3.20" />
<line x1="1430.60" y1="299.32" x2="1435.00" y2="299.32" stroke="#181818" stroke-width="3.20" />
<line x1="1884.80" y1="299.32" x2="1880.40" y2="299.32" stroke="#181818" stroke-width="3.20" />
<line x1="1430.60" y1="230.05" x2="1435.00" y2="230.05" stroke="#181818" stroke-width="3.20" />
<line x1="1884.80" y1="230.05" x2="1880.40" y2="230.05" stroke="#181818" stroke-width="3.20" />
<line x1="1430.60" y1="160.77" x2="1435.00" y2="160.77" stroke="#181818" stroke-width="3.20" />
<line x1="1884.80" y1="160.77" x2="1880.40" y2="160.77" stroke="#181818" stroke-width="3.20" />
<line x1="1521.44" y1="472.50" x2="1521.44" y2="465.90" stroke="#181818" stroke-width="3.20" />
<line x1="1521.44" y1="91.50" x2="1521.44" y2="98.10" stroke="#181818" stroke-width="3.20" />
<line x1="1612.28" y1="472.50" x2="1612.28" y2="465.90" stroke="#181818" stroke-width="3.20" />
<line x1="1612.28" y1="91.50" x2="1612.28" y2="98.10" stroke="#181818" stroke-width="3.20" />
<line x1="1703.12" y1="472.50" x2="1703.12" y2="465.90" stroke="#181818" stroke-width="3.20" />
<line x1="1703.12" y1="91.50" x2="1703.12" y2="98.10" stroke="#181818" stroke-width="3.20" />
<line x1="1793.96" y1="472.50" x2="1793.96" y2="465.90" stroke="#181818" stroke-width="3.20" />
<line x1="1793.96" y1="91.50" x2="1793.96" y2="98.10" stroke="#181818" stroke-width="3.20" />
<line x1="1476.02" y1="472.50" x2="1476.02" y2="468.10" stroke="#181818" stroke-width="3.20" />
<line x1="1476.02" y1="91.50" x2="1476.02" y2="95.90" stroke="#181818" stroke-width="3.20" />
<line x1="1566.86" y1="472.50" x2="1566.86" y2="468.10" stroke="#181818" stroke-width="3.20" />
<line x1="1566.86" y1="91.50" x2="1566.86" y2="95.90" stroke="#181818" stroke-width="3.20" />
<line x1="1657.70" y1="472.50" x2="1657.70" y2="468.10" stroke="#181818" stroke-width="3.20" />
<line x1="1657.70" y1="91.50" x2="1657.70" y2="95.90" stroke="#181818" stroke-width="3.20" />
<line x1="1748.54" y1="472.50" x2="1748.54" y2="468.10" stroke="#181818" stroke-width="3.20" />
<line x1="1748.54" y1="91.50" x2="1748.54" y2="95.90" stroke="#181818" stroke-width="3.20" />
<line x1="1839.38" y1="472.50" x2="1839.38" y2="468.10" stroke="#181818" stroke-width="3.20" />
<line x1="1839.38" y1="91.50" x2="1839.38" y2="95.90" stroke="#181818" stroke-width="3.20" />
<rect x="1430.60" y="91.50" width="454.20" height="381.00" fill="none" stroke="#181818" stroke-width="4.00"/>
<clipPath id="c1430"><rect x="1424.6" y="91.5" width="466.2" height="389.0"/></clipPath>
<g clip-path="url(#c1430)">
<polyline points="1430.60,472.50 1460.88,472.50 1491.16,250.13 1521.44,348.16 1551.72,472.50 1582.00,472.50 1612.28,472.50 1642.56,472.50 1672.84,472.50 1703.12,472.50 1733.40,472.50 1763.68,472.50 1793.96,472.50 1824.24,472.50 1854.52,472.50 1884.80,472.50" fill="none" stroke="#bfe6c6" stroke-width="7.60" stroke-linejoin="round" stroke-linecap="butt" />
<polyline points="1430.60,472.50 1460.88,472.50 1491.16,472.50 1521.44,472.50 1551.72,472.50 1582.00,461.42 1612.28,422.28 1642.56,403.92 1672.84,374.13 1703.12,405.31 1733.40,431.98 1763.68,463.49 1793.96,472.50 1824.24,472.50 1854.52,472.50 1884.80,472.50" fill="none" stroke="#72c472" stroke-width="7.60" stroke-linejoin="round" stroke-linecap="butt" />
<polyline points="1430.60,472.50 1460.88,472.50 1491.16,472.50 1521.44,472.50 1551.72,472.50 1582.00,472.50 1612.28,472.50 1642.56,472.50 1672.84,472.50 1703.12,472.50 1733.40,472.50 1763.68,465.02 1793.96,458.99 1824.24,444.79 1854.52,340.54 1884.80,472.50" fill="none" stroke="#4a9028" stroke-width="7.60" stroke-linejoin="round" stroke-linecap="butt" />
</g>
<line x1="1428.60" y1="472.50" x2="1886.80" y2="472.50" stroke="#181818" stroke-width="4.00" />
<text transform="translate(1405.88 483.68) scale(1.0477 1)" fill="#181818" stroke="#fff" stroke-width="0.25" stroke-linejoin="round"><tspan x="0.00" y="0.00" font-size="31.55" font-weight="bold">0</tspan></text>
<text transform="translate(1382.81 414.41) scale(0.9461 1)" fill="#181818" stroke="#fff" stroke-width="0.25" stroke-linejoin="round"><tspan x="0.00" y="0.00" font-size="31.55" font-weight="bold">0.2</tspan></text>
<text transform="translate(1382.84 345.14) scale(0.9214 1)" fill="#181818" stroke="#fff" stroke-width="0.25" stroke-linejoin="round"><tspan x="0.00" y="0.00" font-size="31.55" font-weight="bold">0.4</tspan></text>
<text transform="translate(1382.81 275.87) scale(0.9425 1)" fill="#181818" stroke="#fff" stroke-width="0.25" stroke-linejoin="round"><tspan x="0.00" y="0.00" font-size="31.55" font-weight="bold">0.6</tspan></text>
<text transform="translate(1382.82 206.59) scale(0.9389 1)" fill="#181818" stroke="#fff" stroke-width="0.25" stroke-linejoin="round"><tspan x="0.00" y="0.00" font-size="31.55" font-weight="bold">0.8</tspan></text>
<text transform="translate(1411.54 137.64) scale(0.8347 1)" fill="#181818" stroke="#fff" stroke-width="0.25" stroke-linejoin="round"><tspan x="0.00" y="0.00" font-size="32.46" font-weight="bold">1</tspan></text>
<text transform="translate(1424.83 509.39) scale(1.0213 1)" fill="#181818" stroke="#fff" stroke-width="0.25" stroke-linejoin="round"><tspan x="0.00" y="0.00" font-size="31.13" font-weight="bold">0</tspan></text>
<text transform="translate(1506.36 509.39) scale(0.9491 1)" fill="#181818" stroke="#fff" stroke-width="0.25" stroke-linejoin="round"><tspan x="0.00" y="0.00" font-size="31.13" font-weight="bold">0.2</tspan></text>
<text transform="translate(1597.23 509.39) scale(0.9244 1)" fill="#181818" stroke="#fff" stroke-width="0.25" stroke-linejoin="round"><tspan x="0.00" y="0.00" font-size="31.13" font-weight="bold">0.4</tspan></text>
<text transform="translate(1688.04 509.39) scale(0.9455 1)" fill="#181818" stroke="#fff" stroke-width="0.25" stroke-linejoin="round"><tspan x="0.00" y="0.00" font-size="31.13" font-weight="bold">0.6</tspan></text>
<text transform="translate(1778.89 509.39) scale(0.9419 1)" fill="#181818" stroke="#fff" stroke-width="0.25" stroke-linejoin="round"><tspan x="0.00" y="0.00" font-size="31.13" font-weight="bold">0.8</tspan></text>
<text transform="translate(1878.76 509.70) scale(0.7856 1)" fill="#181818" stroke="#fff" stroke-width="0.25" stroke-linejoin="round"><tspan x="0.00" y="0.00" font-size="32.03" font-weight="bold">1</tspan></text>
<text transform="translate(1440.18 139.92) scale(0.8995 1)" fill="#0e0e0e"><tspan x="0.00" y="0.00" font-size="37.96" font-weight="bold">Decentralized</tspan></text>
<line x1="1703.20" y1="131.10" x2="1749.00" y2="131.10" stroke="#bfe6c6" stroke-width="4.00" stroke-linecap="round"/>
<text transform="translate(1760.61 138.00) scale(0.9506 1)" fill="#0e0e0e" stroke="#0e0e0e" stroke-width="0.50" stroke-linejoin="round"><tspan x="0.00" y="0.00" font-size="36.20" font-style="italic">C</tspan><tspan x="26.14" y="0.00" font-size="36.20" >=0.01</tspan></text>
<line x1="1703.20" y1="164.30" x2="1749.00" y2="164.30" stroke="#72c472" stroke-width="4.00" stroke-linecap="round"/>
<text transform="translate(1760.61 170.70) scale(0.9476 1)" fill="#0e0e0e" stroke="#0e0e0e" stroke-width="0.50" stroke-linejoin="round"><tspan x="0.00" y="0.00" font-size="36.20" font-style="italic">C</tspan><tspan x="26.14" y="0.00" font-size="36.20" >=0.05</tspan></text>
<line x1="1703.20" y1="197.00" x2="1749.00" y2="197.00" stroke="#4a9028" stroke-width="4.00" stroke-linecap="round"/>
<text transform="translate(1760.71 203.20) scale(0.9008 1)" fill="#0e0e0e" stroke="#0e0e0e" stroke-width="0.50" stroke-linejoin="round"><tspan x="0.00" y="0.00" font-size="36.20" font-style="italic">C</tspan><tspan x="26.14" y="0.00" font-size="36.20" >=1</tspan></text>
<text transform="translate(1357.63 224.83) rotate(-90) scale(0.7503 1)" fill="#0e0e0e" stroke="#0e0e0e" stroke-width="0.90" stroke-linejoin="round"><tspan x="0.00" y="0.00" font-size="44.60" >)</tspan></text>
<text transform="translate(1369.88 272.14) rotate(-90) scale(0.8085 1)" fill="#0e0e0e" stroke="#0e0e0e" stroke-width="0.50" stroke-linejoin="round"><tspan x="0.00" y="0.00" font-size="31.57" >Res</tspan></text>
<text transform="translate(1359.20 297.08) rotate(-90) scale(1.0762 1)" fill="#181818" stroke="#fff" stroke-width="0.30" stroke-linejoin="round"><tspan x="0.00" y="0.00" font-size="55.09" font-style="italic">ϵ</tspan></text>
<text transform="translate(1357.62 311.06) rotate(-90) scale(0.7005 1)" fill="#0e0e0e" stroke="#0e0e0e" stroke-width="0.90" stroke-linejoin="round"><tspan x="0.00" y="0.00" font-size="44.17" >(</tspan></text>
<text transform="translate(1359.20 337.22) rotate(-90) scale(0.8384 1)" fill="#0e0e0e" stroke="#0e0e0e" stroke-width="0.90" stroke-linejoin="round"><tspan x="0.00" y="0.00" font-size="44.49" font-style="italic">P</tspan></text>
<text transform="translate(1621.60 557.30) scale(1.0723 1)" fill="#181818" stroke="#fff" stroke-width="0.80" stroke-linejoin="round"><tspan x="0.00" y="0.00" font-size="49.81" font-style="italic">ϵ</tspan></text>
<text transform="translate(1646.17 569.10) scale(0.8612 1)" fill="#0e0e0e" stroke="#0e0e0e" stroke-width="0.50" stroke-linejoin="round"><tspan x="0.00" y="0.00" font-size="29.50" >Res</tspan></text>
<text transform="translate(1360.79 33.17) scale(0.9513 1)" fill="#0e0e0e" stroke="#0e0e0e" stroke-width="0.50" stroke-linejoin="round"><tspan x="0.00" y="0.00" font-size="43.96" >(c)</tspan></text>
</svg></body></html>
